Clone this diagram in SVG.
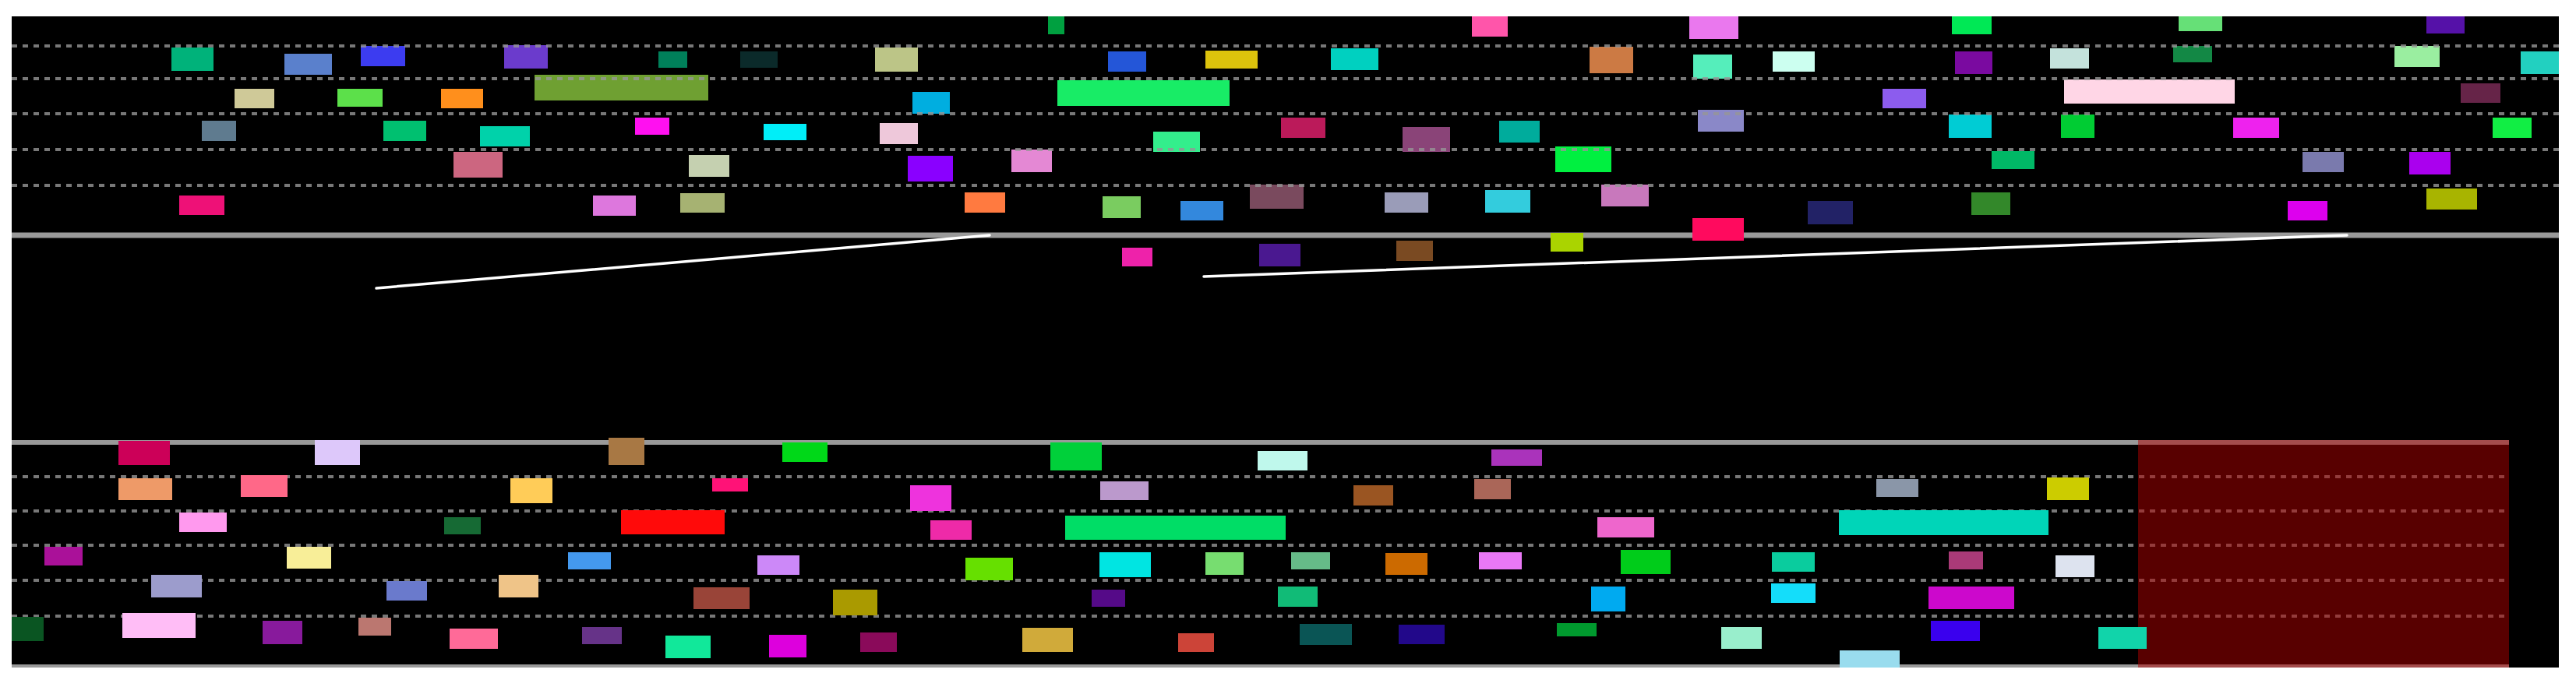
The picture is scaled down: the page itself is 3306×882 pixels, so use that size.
<svg xmlns="http://www.w3.org/2000/svg" width="3306" height="882" viewBox="0 0 3306 882">
<style>
.d{stroke:#969696;stroke-opacity:0.8;stroke-width:4;stroke-dasharray:7 7;fill:none}
.s{stroke:#999;fill:none}
.c{stroke:#fff;stroke-width:3.5;fill:none;stroke-linecap:round}
</style>
<rect x="0" y="0" width="3306" height="882" fill="#fff"/>
<rect x="15" y="21" width="3269" height="836" fill="#000"/>
<g id="top-band">
<line class="s" x1="15" y1="302" x2="3284" y2="302" stroke-width="7"/>
<g id="top-items">
<rect x="220" y="61" width="54" height="30" fill="#00b27a"/>
<rect x="365" y="69" width="61" height="27" fill="#5a80cc"/>
<rect x="463" y="59" width="57" height="26" fill="#3c3cf0"/>
<rect x="647" y="58" width="56" height="30" fill="#6b3bcc"/>
<rect x="686" y="96" width="223" height="33" fill="#6fa032"/>
<rect x="301" y="114" width="51" height="25" fill="#cfc998"/>
<rect x="433" y="114" width="58" height="23" fill="#5ce04a"/>
<rect x="566" y="114" width="54" height="25" fill="#ff8f1c"/>
<rect x="259" y="155" width="44" height="26" fill="#5f7b8f"/>
<rect x="492" y="155" width="55" height="26" fill="#00c070"/>
<rect x="616" y="162" width="64" height="26" fill="#00d2aa"/>
<rect x="815" y="151" width="44" height="22" fill="#ff10f0"/>
<rect x="582" y="195" width="63" height="33" fill="#cc6680"/>
<rect x="230" y="251" width="58" height="25" fill="#ee1177"/>
<rect x="761" y="251" width="55" height="26" fill="#dd77dd"/>
<rect x="1345" y="21" width="21" height="23" fill="#00a040"/>
<rect x="845" y="66" width="37" height="21" fill="#00805a"/>
<rect x="950" y="66" width="48" height="21" fill="#0b2a2a"/>
<rect x="1123" y="61" width="55" height="31" fill="#bcc587"/>
<rect x="1422" y="66" width="49" height="26" fill="#2456d8"/>
<rect x="1547" y="65" width="67" height="23" fill="#dcc30c"/>
<rect x="1357" y="103" width="221" height="33" fill="#18ec66"/>
<rect x="1171" y="118" width="48" height="28" fill="#00aee0"/>
<rect x="980" y="159" width="55" height="21" fill="#00eef8"/>
<rect x="1129" y="158" width="49" height="27" fill="#eec8da"/>
<rect x="1480" y="169" width="60" height="26" fill="#33ee8c"/>
<rect x="884" y="199" width="52" height="28" fill="#c5d0b0"/>
<rect x="1165" y="200" width="58" height="33" fill="#8a00ff"/>
<rect x="1298" y="192" width="52" height="29" fill="#e488d4"/>
<rect x="873" y="248" width="57" height="25" fill="#a6b272"/>
<rect x="1238" y="247" width="52" height="26" fill="#ff7a40"/>
<rect x="1415" y="252" width="49" height="28" fill="#7acc60"/>
<rect x="1515" y="258" width="55" height="25" fill="#3388dd"/>
<rect x="1604" y="237" width="69" height="31" fill="#7a4a5e"/>
<rect x="1889" y="21" width="46" height="26" fill="#ff55aa"/>
<rect x="2168" y="21" width="63" height="29" fill="#ea78ee"/>
<rect x="1708" y="62" width="61" height="28" fill="#00d0c0"/>
<rect x="2040" y="60" width="56" height="34" fill="#cc7a44"/>
<rect x="2173" y="70" width="50" height="31" fill="#55eebb"/>
<rect x="2275" y="66" width="54" height="26" fill="#ccfff0"/>
<rect x="2416" y="114" width="56" height="25" fill="#8c5cee"/>
<rect x="1644" y="151" width="57" height="26" fill="#bb1a5a"/>
<rect x="1800" y="163" width="61" height="32" fill="#8a4478"/>
<rect x="1924" y="155" width="52" height="28" fill="#00ac9c"/>
<rect x="2179" y="141" width="59" height="28" fill="#8a88c8"/>
<rect x="1996" y="188" width="72" height="33" fill="#00f040"/>
<rect x="1777" y="247" width="56" height="26" fill="#9a9cb8"/>
<rect x="1906" y="244" width="58" height="29" fill="#33ccdd"/>
<rect x="2055" y="237" width="61" height="28" fill="#c878bc"/>
<rect x="2320" y="258" width="58" height="30" fill="#222266"/>
<rect x="2505" y="21" width="51" height="23" fill="#00e855"/>
<rect x="2796" y="21" width="56" height="19" fill="#66e077"/>
<rect x="3114" y="21" width="49" height="22" fill="#5511a8"/>
<rect x="2509" y="66" width="48" height="29" fill="#7a0aa0"/>
<rect x="2631" y="62" width="50" height="26" fill="#c4e2dc"/>
<rect x="2789" y="59" width="50" height="21" fill="#138845"/>
<rect x="3073" y="59" width="58" height="27" fill="#9aeea0"/>
<rect x="3235" y="66" width="49" height="29" fill="#22d0c0"/>
<rect x="2649" y="102" width="219" height="31" fill="#ffd6e6"/>
<rect x="3158" y="107" width="51" height="25" fill="#662448"/>
<rect x="2501" y="147" width="55" height="30" fill="#00ccd4"/>
<rect x="2645" y="147" width="43" height="30" fill="#00cc33"/>
<rect x="2866" y="151" width="59" height="26" fill="#ee22ee"/>
<rect x="3199" y="151" width="50" height="26" fill="#11ee44"/>
<rect x="2556" y="194" width="55" height="23" fill="#00b866"/>
<rect x="2955" y="195" width="53" height="26" fill="#7a7aad"/>
<rect x="3092" y="195" width="53" height="29" fill="#aa00ee"/>
<rect x="2530" y="247" width="50" height="29" fill="#33882a"/>
<rect x="2936" y="258" width="51" height="25" fill="#dd00ee"/>
<rect x="3114" y="242" width="65" height="27" fill="#a8b400"/>
<rect x="2172" y="280" width="66" height="29" fill="#ff0a5e"/>
<rect x="1990" y="299" width="42" height="24" fill="#aad400"/>
<rect x="1440" y="318" width="39" height="24" fill="#ee22aa"/>
<rect x="1616" y="313" width="53" height="29" fill="#4a1890"/>
<rect x="1792" y="309" width="47" height="26" fill="#7a4a22"/>
</g>
<g id="top-lanes">
<line class="d" x1="15" y1="59" x2="3284" y2="59"/>
<line class="d" x1="15" y1="101" x2="3284" y2="101"/>
<line class="d" x1="15" y1="146" x2="3284" y2="146"/>
<line class="d" x1="15" y1="192" x2="3284" y2="192"/>
<line class="d" x1="15" y1="238" x2="3284" y2="238"/>
</g>
</g>
<g id="connectors">
<line class="c" x1="483" y1="370" x2="1270" y2="302"/>
<line class="c" x1="1545" y1="355" x2="3012" y2="302"/>
</g>
<g id="bottom-band">
<line class="s" x1="15" y1="568" x2="3220" y2="568" stroke-width="6"/>
<line class="s" x1="15" y1="855" x2="3220" y2="855" stroke-width="4"/>
<g id="bottom-lanes">
<line class="d" x1="15" y1="612" x2="3220" y2="612"/>
<line class="d" x1="15" y1="656" x2="3220" y2="656"/>
<line class="d" x1="15" y1="700" x2="3220" y2="700"/>
<line class="d" x1="15" y1="745" x2="3220" y2="745"/>
<line class="d" x1="15" y1="791" x2="3220" y2="791"/>
</g>
<rect id="highlight" x="2744" y="565" width="476" height="292" fill="#b00000" fill-opacity="0.5"/>
<g id="bottom-items">
<rect x="152" y="566" width="66" height="31" fill="#cc0058"/>
<rect x="404" y="565" width="58" height="32" fill="#ddc8fa"/>
<rect x="781" y="562" width="46" height="35" fill="#a87844"/>
<rect x="152" y="614" width="69" height="28" fill="#ee9a68"/>
<rect x="309" y="610" width="60" height="28" fill="#ff6888"/>
<rect x="655" y="614" width="54" height="32" fill="#ffcc58"/>
<rect x="230" y="658" width="61" height="25" fill="#ff99ee"/>
<rect x="570" y="664" width="47" height="22" fill="#166a34"/>
<rect x="797" y="655" width="133" height="31" fill="#ff0a0a"/>
<rect x="57" y="702" width="49" height="24" fill="#aa1199"/>
<rect x="368" y="702" width="57" height="28" fill="#f8ee98"/>
<rect x="729" y="709" width="55" height="22" fill="#4499ee"/>
<rect x="194" y="738" width="65" height="29" fill="#9c9ccc"/>
<rect x="496" y="746" width="52" height="25" fill="#6a7acc"/>
<rect x="640" y="738" width="51" height="29" fill="#efc488"/>
<rect x="15" y="792" width="41" height="31" fill="#0a5522"/>
<rect x="157" y="787" width="94" height="32" fill="#ffbdf6"/>
<rect x="337" y="797" width="51" height="30" fill="#881a9c"/>
<rect x="460" y="793" width="42" height="23" fill="#bb7770"/>
<rect x="577" y="807" width="62" height="26" fill="#ff6a98"/>
<rect x="747" y="805" width="51" height="22" fill="#663388"/>
<rect x="1004" y="568" width="58" height="25" fill="#00d818"/>
<rect x="1348" y="568" width="66" height="36" fill="#00d03a"/>
<rect x="1614" y="579" width="64" height="25" fill="#bff8ec"/>
<rect x="914" y="614" width="46" height="17" fill="#ff1277"/>
<rect x="1168" y="623" width="53" height="33" fill="#ee33dd"/>
<rect x="1412" y="618" width="62" height="24" fill="#bb99cc"/>
<rect x="1194" y="668" width="53" height="25" fill="#ee2aa8"/>
<rect x="1367" y="662" width="283" height="31" fill="#00dd66"/>
<rect x="972" y="713" width="54" height="25" fill="#cc88f8"/>
<rect x="1239" y="716" width="61" height="29" fill="#66e000"/>
<rect x="1411" y="709" width="66" height="32" fill="#00e5e2"/>
<rect x="1547" y="709" width="49" height="29" fill="#77dd70"/>
<rect x="890" y="754" width="72" height="28" fill="#994438"/>
<rect x="1069" y="757" width="57" height="33" fill="#aa9a00"/>
<rect x="1401" y="757" width="43" height="22" fill="#550a88"/>
<rect x="1640" y="753" width="51" height="26" fill="#11bb77"/>
<rect x="854" y="816" width="58" height="29" fill="#11e89a"/>
<rect x="987" y="815" width="48" height="29" fill="#dd00dd"/>
<rect x="1104" y="812" width="47" height="25" fill="#8a0a5a"/>
<rect x="1312" y="806" width="65" height="31" fill="#d0aa3a"/>
<rect x="1512" y="813" width="46" height="24" fill="#cc4438"/>
<rect x="1914" y="577" width="65" height="21" fill="#aa33bb"/>
<rect x="1737" y="623" width="51" height="26" fill="#9a5522"/>
<rect x="1892" y="615" width="47" height="26" fill="#aa6658"/>
<rect x="2408" y="615" width="54" height="23" fill="#8a96a8"/>
<rect x="2050" y="664" width="73" height="26" fill="#ee66cc"/>
<rect x="2360" y="655" width="269" height="32" fill="#00d5b8"/>
<rect x="1657" y="709" width="50" height="22" fill="#66bb88"/>
<rect x="1778" y="710" width="54" height="28" fill="#cc6a00"/>
<rect x="1898" y="709" width="55" height="22" fill="#ea78f6"/>
<rect x="2080" y="706" width="64" height="31" fill="#00cc1a"/>
<rect x="2274" y="709" width="55" height="25" fill="#0acc9e"/>
<rect x="2042" y="753" width="44" height="32" fill="#00aaf0"/>
<rect x="2273" y="749" width="57" height="25" fill="#14ddfa"/>
<rect x="1668" y="801" width="67" height="27" fill="#0a5555"/>
<rect x="1795" y="802" width="59" height="25" fill="#22088a"/>
<rect x="1998" y="800" width="51" height="17" fill="#009a2e"/>
<rect x="2209" y="805" width="52" height="28" fill="#99eecc"/>
<rect x="2361" y="835" width="77" height="22" fill="#99dcee"/>
<rect x="2627" y="613" width="54" height="29" fill="#cccc00"/>
<rect x="2501" y="708" width="44" height="23" fill="#aa3a78"/>
<rect x="2638" y="713" width="50" height="28" fill="#dde3ef"/>
<rect x="2475" y="753" width="110" height="29" fill="#cc08cc"/>
<rect x="2478" y="797" width="63" height="26" fill="#3a00ee"/>
<rect x="2693" y="805" width="62" height="28" fill="#11d4aa"/>
</g>
</g>
</svg>
